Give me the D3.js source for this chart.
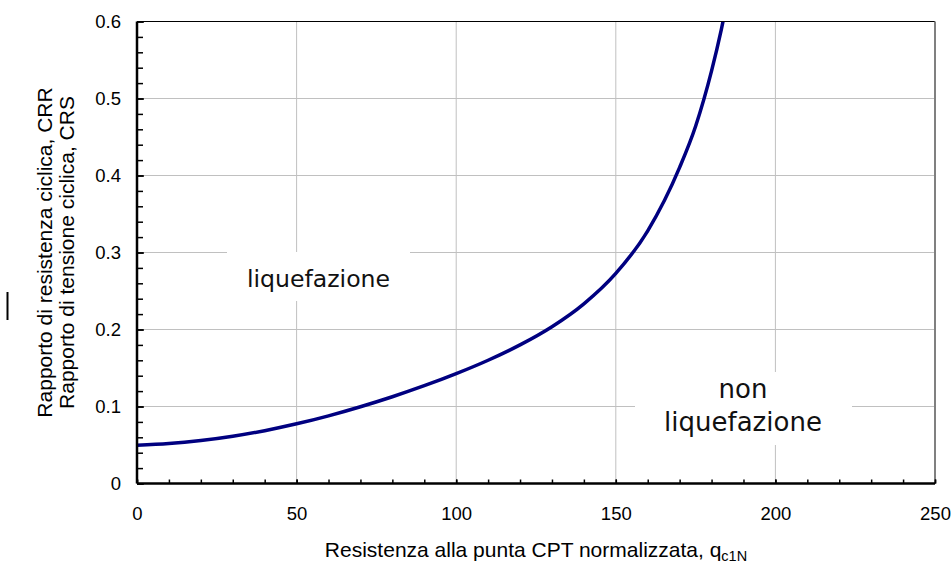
<!DOCTYPE html>
<html>
<head>
<meta charset="utf-8">
<script src="https://cdn.jsdelivr.net/npm/d3@7/dist/d3.min.js"></script>
<style>
  body { margin: 0; background: #fff; }
  svg { display: block; }
  .tick text { font-family: "Liberation Sans", Arial, sans-serif; font-size: 18.5px; fill: #000; }
</style>
</head>
<body>
<div id="chart"></div>
<script>
'use strict';

// curve (CRR vs qc1N)
var qc1N = [0, 10, 20, 30, 40, 50, 60, 70, 80, 90, 100, 110, 120, 130, 140, 150, 160, 170, 175, 180, 183, 184];
var crr = [0.0498, 0.0518, 0.0557, 0.0613, 0.0686, 0.0775, 0.0879, 0.0997, 0.1127, 0.1270, 0.1427,
  0.1601, 0.1800, 0.2036, 0.2333, 0.2728, 0.3282, 0.4106, 0.4640, 0.5358, 0.5885, 0.6082];

var xTicks = [0, 50, 100, 150, 200, 250];
var yTicks = [0, 0.1, 0.2, 0.3, 0.4, 0.5, 0.6];
var xMinor = d3.range(0, 251, 10);
var yMinor = d3.range(0, 0.601, 0.02);

var xTitle = 'Resistenza alla punta CPT normalizzata, q';
var xTitleSub = 'c1N';
var yTitles = ['Rapporto di resistenza ciclica, CRR', 'Rapporto di tensione ciclica, CRS'];

var W = 952, H = 566;
var margin = { top: 21.5, right: 17, bottom: 82.5, left: 137 };
var w = W - margin.left - margin.right;
var h = H - margin.top - margin.bottom;

var svg = d3.select('#chart').append('svg')
  .attr('width', W)
  .attr('height', H);

var g = svg.append('g')
  .attr('transform', 'translate(' + margin.left + ',' + margin.top + ')');

var x = d3.scaleLinear().domain([0, 250]).range([0, w]);
var y = d3.scaleLinear().domain([0, 0.6]).range([h, 0]);

// gridlines
g.append('g').selectAll('line')
  .data(xTicks.slice(1, -1))
  .enter().append('line')
  .attr('x1', function (d) { return x(d); })
  .attr('x2', function (d) { return x(d); })
  .attr('y1', 0).attr('y2', h)
  .attr('stroke', '#c0c0c0');

g.append('g').selectAll('line')
  .data(yTicks.slice(1, -1))
  .enter().append('line')
  .attr('y1', function (d) { return y(d); })
  .attr('y2', function (d) { return y(d); })
  .attr('x1', 0).attr('x2', w)
  .attr('stroke', '#c0c0c0');

// white boxes behind the region labels
g.append('rect')
  .attr('x', 227 - margin.left).attr('y', 252 - margin.top)
  .attr('width', 183).attr('height', 49)
  .attr('fill', '#fff');
g.append('rect')
  .attr('x', 635 - margin.left).attr('y', 372 - margin.top)
  .attr('width', 217).attr('height', 73)
  .attr('fill', '#fff');

// curve
g.append('clipPath').attr('id', 'clip')
  .append('rect').attr('width', w).attr('height', h);

var line = d3.line()
  .x(function (d, i) { return x(qc1N[i]); })
  .y(function (d) { return y(d); })
  .curve(d3.curveMonotoneX);

g.append('path')
  .datum(crr)
  .attr('clip-path', 'url(#clip)')
  .attr('d', line)
  .attr('fill', 'none')
  .attr('stroke', '#000080')
  .attr('stroke-width', 3.5);

// frame: top and right
g.append('line').attr('x1', 0).attr('x2', w).attr('y1', 0).attr('y2', 0)
  .attr('stroke', '#000').attr('stroke-width', 1);
g.append('line').attr('x1', w).attr('x2', w).attr('y1', 0).attr('y2', h)
  .attr('stroke', '#808080').attr('stroke-width', 2);

// axes
var xMinorAxis = g.append('g')
  .attr('transform', 'translate(0,' + h + ')')
  .call(d3.axisBottom(x).tickValues(xMinor).tickSize(-4).tickFormat(''));
var xAxis = g.append('g')
  .attr('transform', 'translate(0,' + h + ')')
  .call(d3.axisBottom(x).tickValues(xTicks).tickSize(-4).tickPadding(23).tickFormat(d3.format('d')));

var yMinorAxis = g.append('g')
  .call(d3.axisLeft(y).tickValues(yMinor).tickSize(-6).tickFormat(''));
var yAxis = g.append('g')
  .call(d3.axisLeft(y).tickValues(yTicks).tickSize(-7).tickPadding(16)
    .tickFormat(function (d) { return d === 0 ? '0' : d3.format('.1f')(d); }));

[xMinorAxis, xAxis, yMinorAxis, yAxis].forEach(function (a) {
  a.selectAll('.tick line').attr('stroke', '#000').attr('stroke-width', 1.5);
  a.select('.domain').remove();
});

g.append('line').attr('x1', 0).attr('x2', w).attr('y1', h).attr('y2', h)
  .attr('stroke', '#000').attr('stroke-width', 2.5);
g.append('line').attr('x1', 0).attr('x2', 0).attr('y1', 0).attr('y2', h)
  .attr('stroke', '#000').attr('stroke-width', 2.5);

// region labels
var regionFont = '"DejaVu Sans", Verdana, sans-serif';
svg.append('text')
  .attr('x', 318.5).attr('y', 286.5)
  .attr('text-anchor', 'middle')
  .attr('font-family', regionFont).attr('font-size', 23.6)
  .attr('fill', '#111')
  .text('liquefazione');

var nonLab = svg.append('text')
  .attr('text-anchor', 'middle')
  .attr('font-family', regionFont).attr('font-size', 26)
  .attr('fill', '#111');
nonLab.append('tspan').attr('x', 743).attr('y', 398).text('non');
nonLab.append('tspan').attr('x', 743).attr('y', 431).text('liquefazione');

// axis titles
var titleFont = '"Liberation Sans", Arial, sans-serif';
var xt = svg.append('text')
  .attr('x', margin.left + w / 2).attr('y', 557)
  .attr('text-anchor', 'middle')
  .attr('font-family', titleFont).attr('font-size', 21)
  .attr('fill', '#000')
  .text(xTitle);
xt.append('tspan').attr('font-size', 14.5).attr('dy', 4).text(xTitleSub);

svg.selectAll('.ytitle')
  .data(yTitles)
  .enter().append('text')
  .attr('class', 'ytitle')
  .attr('transform', function (d, i) {
    return 'translate(' + (52 + i * 22) + ',' + (margin.top + h / 2) + ') rotate(-90)';
  })
  .attr('text-anchor', 'middle')
  .attr('font-family', titleFont).attr('font-size', 21)
  .attr('fill', '#000')
  .text(function (d) { return d; });

// stray legend mark at left edge
svg.append('line')
  .attr('x1', 7.5).attr('x2', 7.5).attr('y1', 292).attr('y2', 320)
  .attr('stroke', '#000').attr('stroke-width', 2);
</script>
</body>
</html>
